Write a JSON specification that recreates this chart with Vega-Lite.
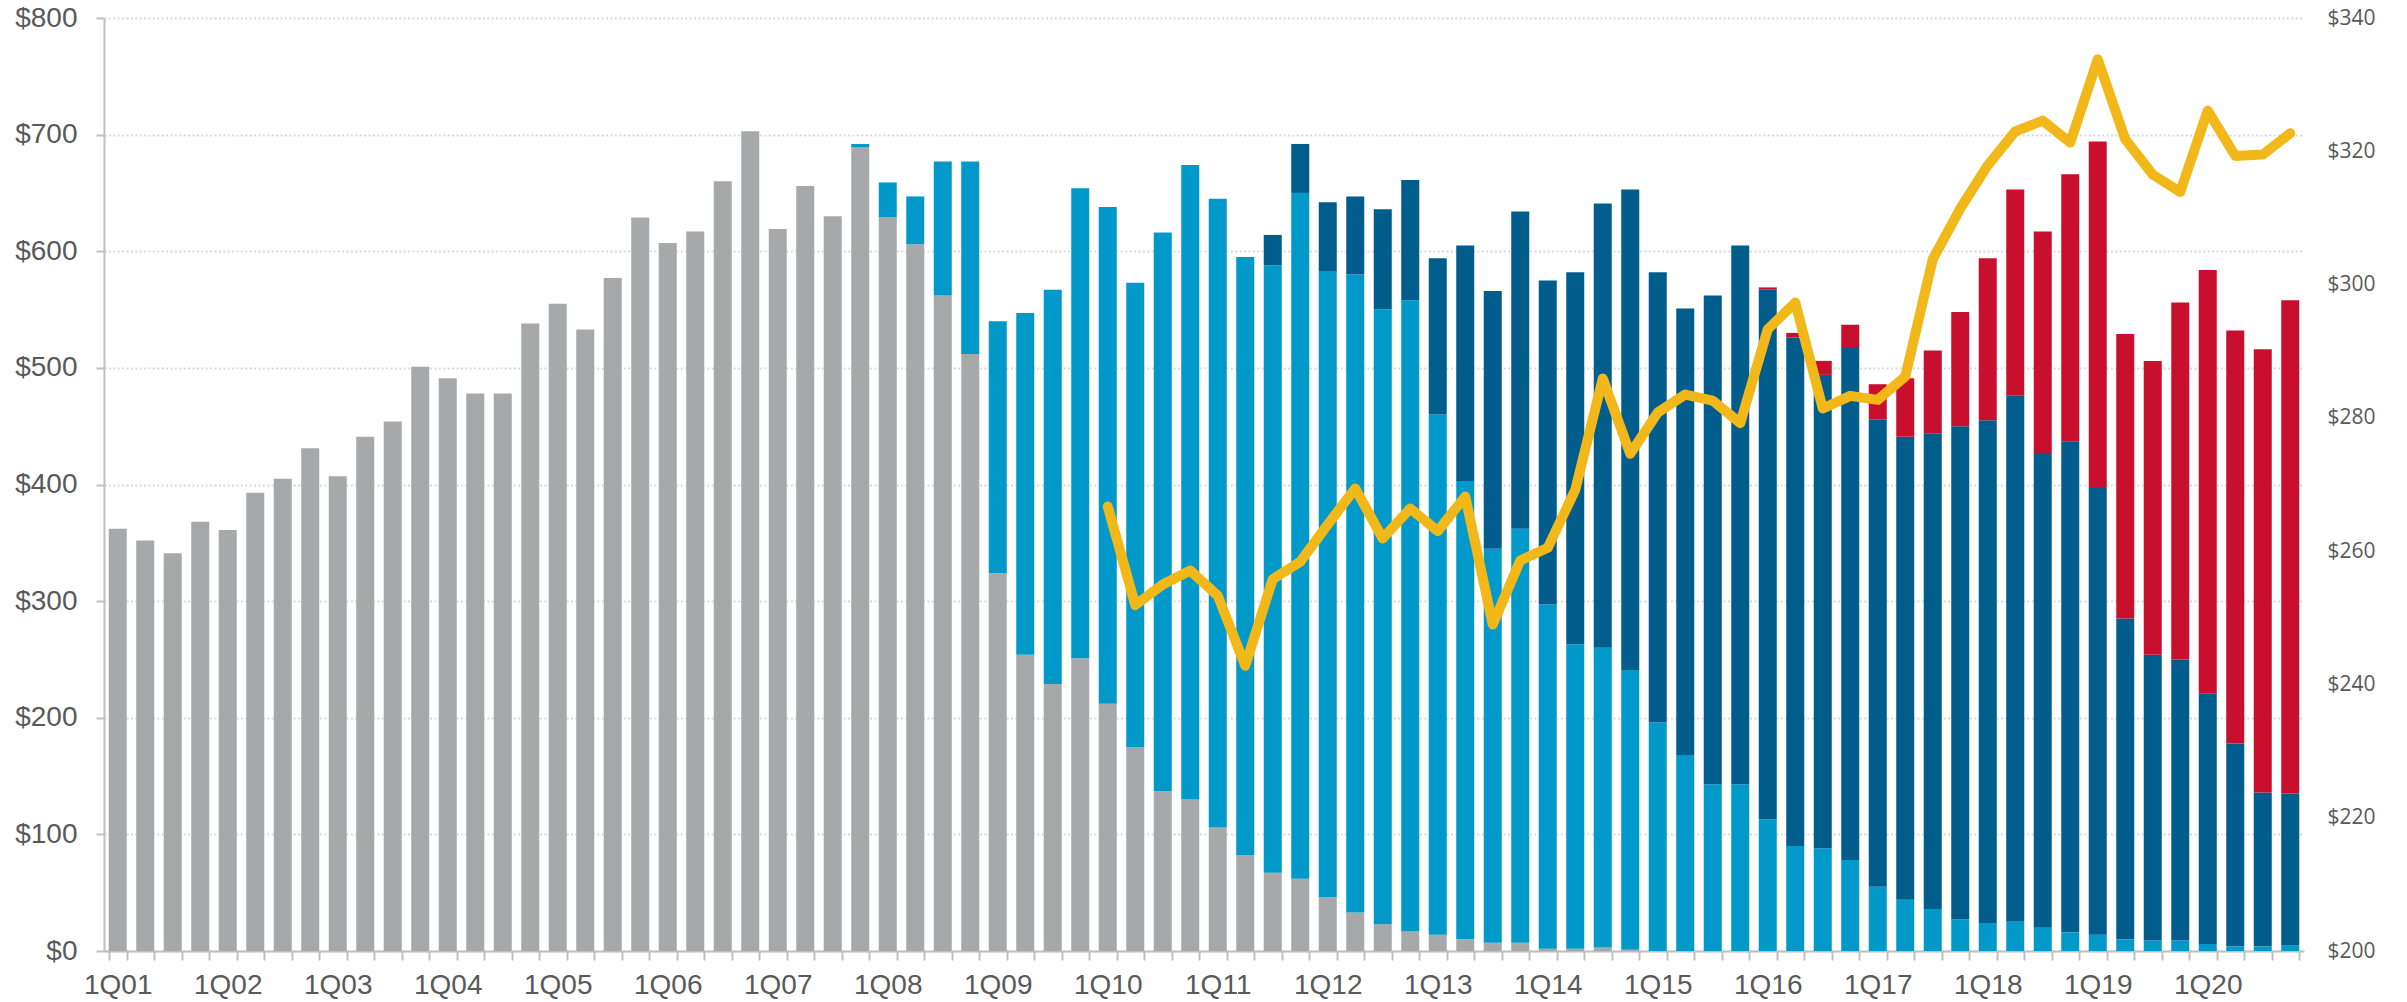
{
  "$schema": "https://vega.github.io/schema/vega-lite/v6.json",
  "width": 2200,
  "height": 933,
  "autosize": {"type": "none"},
  "padding": {"left": 104, "top": 18, "right": 103, "bottom": 51},
  "background": "white",
  "config": {"view": {"stroke": null}},
  "data": {"values": [
    {"q":"1Q01","s1":362,"s2":0,"s3":0,"s4":0},
    {"q":"2Q01","s1":352,"s2":0,"s3":0,"s4":0},
    {"q":"3Q01","s1":341,"s2":0,"s3":0,"s4":0},
    {"q":"4Q01","s1":368,"s2":0,"s3":0,"s4":0},
    {"q":"1Q02","s1":361,"s2":0,"s3":0,"s4":0},
    {"q":"2Q02","s1":393,"s2":0,"s3":0,"s4":0},
    {"q":"3Q02","s1":405,"s2":0,"s3":0,"s4":0},
    {"q":"4Q02","s1":431,"s2":0,"s3":0,"s4":0},
    {"q":"1Q03","s1":407,"s2":0,"s3":0,"s4":0},
    {"q":"2Q03","s1":441,"s2":0,"s3":0,"s4":0},
    {"q":"3Q03","s1":454,"s2":0,"s3":0,"s4":0},
    {"q":"4Q03","s1":501,"s2":0,"s3":0,"s4":0},
    {"q":"1Q04","s1":491,"s2":0,"s3":0,"s4":0},
    {"q":"2Q04","s1":478,"s2":0,"s3":0,"s4":0},
    {"q":"3Q04","s1":478,"s2":0,"s3":0,"s4":0},
    {"q":"4Q04","s1":538,"s2":0,"s3":0,"s4":0},
    {"q":"1Q05","s1":555,"s2":0,"s3":0,"s4":0},
    {"q":"2Q05","s1":533,"s2":0,"s3":0,"s4":0},
    {"q":"3Q05","s1":577,"s2":0,"s3":0,"s4":0},
    {"q":"4Q05","s1":629,"s2":0,"s3":0,"s4":0},
    {"q":"1Q06","s1":607,"s2":0,"s3":0,"s4":0},
    {"q":"2Q06","s1":617,"s2":0,"s3":0,"s4":0},
    {"q":"3Q06","s1":660,"s2":0,"s3":0,"s4":0},
    {"q":"4Q06","s1":703,"s2":0,"s3":0,"s4":0},
    {"q":"1Q07","s1":619,"s2":0,"s3":0,"s4":0},
    {"q":"2Q07","s1":656,"s2":0,"s3":0,"s4":0},
    {"q":"3Q07","s1":630,"s2":0,"s3":0,"s4":0},
    {"q":"4Q07","s1":689,"s2":3,"s3":0,"s4":0},
    {"q":"1Q08","s1":629,"s2":30,"s3":0,"s4":0},
    {"q":"2Q08","s1":606,"s2":41,"s3":0,"s4":0},
    {"q":"3Q08","s1":562,"s2":115,"s3":0,"s4":0},
    {"q":"4Q08","s1":512,"s2":165,"s3":0,"s4":0},
    {"q":"1Q09","s1":324,"s2":216,"s3":0,"s4":0},
    {"q":"2Q09","s1":254,"s2":293,"s3":0,"s4":0},
    {"q":"3Q09","s1":229,"s2":338,"s3":0,"s4":0},
    {"q":"4Q09","s1":251,"s2":403,"s3":0,"s4":0},
    {"q":"1Q10","s1":212,"s2":426,"s3":0,"s4":0,"p":266.7},
    {"q":"2Q10","s1":175,"s2":398,"s3":0,"s4":0,"p":251.9},
    {"q":"3Q10","s1":137,"s2":479,"s3":0,"s4":0,"p":255.0},
    {"q":"4Q10","s1":130,"s2":544,"s3":0,"s4":0,"p":257.1},
    {"q":"1Q11","s1":106,"s2":539,"s3":0,"s4":0,"p":253.3},
    {"q":"2Q11","s1":82,"s2":513,"s3":0,"s4":0,"p":242.8},
    {"q":"3Q11","s1":67,"s2":521,"s3":26,"s4":0,"p":255.8},
    {"q":"4Q11","s1":62,"s2":588,"s3":42,"s4":0,"p":258.4},
    {"q":"1Q12","s1":46,"s2":537,"s3":59,"s4":0,"p":264.0},
    {"q":"2Q12","s1":33,"s2":547,"s3":67,"s4":0,"p":269.4},
    {"q":"3Q12","s1":23,"s2":527,"s3":86,"s4":0,"p":261.9},
    {"q":"4Q12","s1":17,"s2":541,"s3":103,"s4":0,"p":266.4},
    {"q":"1Q13","s1":14,"s2":446,"s3":134,"s4":0,"p":263.0},
    {"q":"2Q13","s1":10,"s2":393,"s3":202,"s4":0,"p":268.2},
    {"q":"3Q13","s1":7,"s2":338,"s3":221,"s4":0,"p":249.0},
    {"q":"4Q13","s1":7,"s2":355,"s3":272,"s4":0,"p":258.6},
    {"q":"1Q14","s1":2,"s2":295,"s3":278,"s4":0,"p":260.5},
    {"q":"2Q14","s1":2,"s2":261,"s3":319,"s4":0,"p":269.2},
    {"q":"3Q14","s1":3,"s2":257,"s3":381,"s4":0,"p":285.9},
    {"q":"4Q14","s1":1,"s2":240,"s3":412,"s4":0,"p":274.6},
    {"q":"1Q15","s1":0,"s2":196,"s3":386,"s4":0,"p":280.8},
    {"q":"2Q15","s1":0,"s2":168,"s3":383,"s4":0,"p":283.5},
    {"q":"3Q15","s1":0,"s2":143,"s3":419,"s4":0,"p":282.6},
    {"q":"4Q15","s1":0,"s2":143,"s3":462,"s4":0,"p":279.2},
    {"q":"1Q16","s1":0,"s2":113,"s3":454,"s4":2,"p":293.3},
    {"q":"2Q16","s1":0,"s2":90,"s3":436,"s4":4,"p":297.3},
    {"q":"3Q16","s1":0,"s2":88,"s3":406,"s4":12,"p":281.4},
    {"q":"4Q16","s1":0,"s2":78,"s3":439,"s4":20,"p":283.3},
    {"q":"1Q17","s1":0,"s2":55,"s3":401,"s4":30,"p":282.7},
    {"q":"2Q17","s1":0,"s2":44,"s3":397,"s4":50,"p":286.2},
    {"q":"3Q17","s1":0,"s2":36,"s3":408,"s4":71,"p":303.8},
    {"q":"4Q17","s1":0,"s2":27,"s3":423,"s4":98,"p":311.4},
    {"q":"1Q18","s1":0,"s2":24,"s3":431,"s4":139,"p":317.9},
    {"q":"2Q18","s1":0,"s2":25,"s3":451,"s4":177,"p":323.0},
    {"q":"3Q18","s1":0,"s2":20,"s3":407,"s4":190,"p":324.6},
    {"q":"4Q18","s1":0,"s2":16,"s3":421,"s4":229,"p":321.3},
    {"q":"1Q19","s1":0,"s2":14,"s3":383,"s4":297,"p":333.8},
    {"q":"2Q19","s1":0,"s2":10,"s3":275,"s4":244,"p":321.8},
    {"q":"3Q19","s1":0,"s2":9,"s3":245,"s4":252,"p":316.5},
    {"q":"4Q19","s1":0,"s2":9,"s3":241,"s4":306,"p":313.9},
    {"q":"1Q20","s1":0,"s2":6,"s3":215,"s4":363,"p":326.1},
    {"q":"2Q20","s1":0,"s2":4,"s3":174,"s4":354,"p":319.3},
    {"q":"3Q20","s1":0,"s2":4,"s3":132,"s4":380,"p":319.5},
    {"q":"4Q20","s1":0,"s2":5,"s3":130,"s4":423,"p":322.7}
  ]},
  "encoding": {
    "x": {
      "field": "q", "type": "ordinal", "sort": null,
      "scale": {"paddingInner": 0.345, "paddingOuter": 0.1725},
      "axis": {
        "title": null, "tickBand": "extent",
        "labelExpr": "indexof(datum.label, '1Q') === 0 ? datum.label : ''",
        "labelAngle": 0, "labelFont": "Liberation Sans", "labelFontSize": 28,
        "labelColor": "#595959", "labelPadding": 11, "labelOverlap": false, "labelBound": false,
        "tickSize": 9, "tickColor": "#BFBFBF", "tickWidth": 2,
        "domainColor": "#BFBFBF", "domainWidth": 2, "grid": false
      }
    }
  },
  "layer": [
    {
      "transform": [{"fold": ["s1", "s2", "s3", "s4"], "as": ["series", "amount"]}],
      "mark": {"type": "bar"},
      "encoding": {
        "y": {
          "field": "amount", "type": "quantitative", "stack": "zero",
          "scale": {"domain": [0, 800], "nice": false},
          "axis": {
            "title": null, "values": [0, 100, 200, 300, 400, 500, 600, 700, 800],
            "format": "$,.0f", "labelFont": "Liberation Sans", "labelFontSize": 28,
            "labelColor": "#595959", "labelPadding": 19,
            "tickSize": 8, "tickColor": "#BFBFBF", "tickWidth": 2,
            "domainColor": "#BFBFBF", "domainWidth": 2,
            "grid": true, "gridColor": "#D9D9D9", "gridDash": [2, 2.4], "gridWidth": 2
          }
        },
        "color": {
          "field": "series", "type": "nominal",
          "scale": {"domain": ["s1", "s2", "s3", "s4"], "range": ["#A7A8AA", "#0099C9", "#005D8C", "#C8102E"]},
          "legend": null
        },
        "order": {"field": "series", "sort": "ascending"}
      }
    },
    {
      "mark": {"type": "line", "color": "#F2B81A", "strokeWidth": 10, "strokeCap": "round", "strokeJoin": "round"},
      "encoding": {
        "y": {
          "field": "p", "type": "quantitative",
          "scale": {"domain": [200, 340], "nice": false, "zero": false},
          "axis": {
            "orient": "right", "title": null,
            "values": [200, 220, 240, 260, 280, 300, 320, 340],
            "format": "$,.0f", "labelFont": "Open Sans", "labelFontSize": 21,
            "labelColor": "#595959", "labelPadding": 23,
            "ticks": false, "domain": false, "grid": false
          }
        }
      }
    }
  ],
  "resolve": {"scale": {"y": "independent"}}
}
